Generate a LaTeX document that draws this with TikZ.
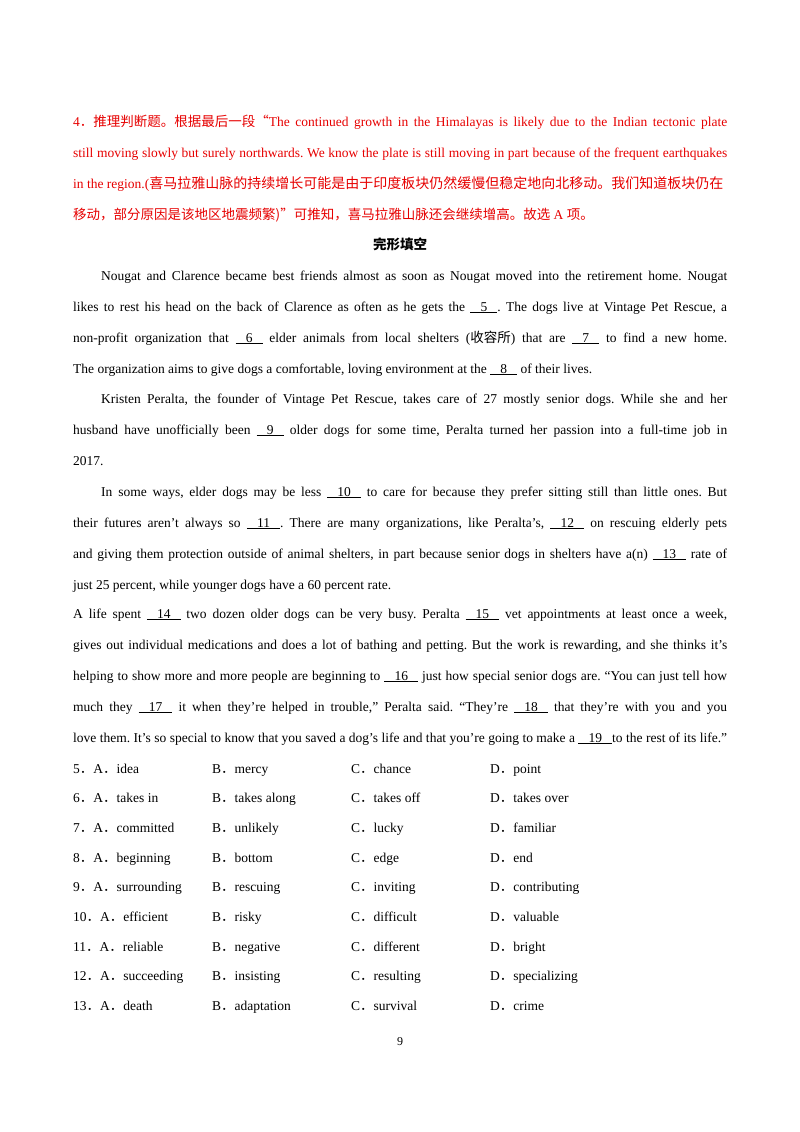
\documentclass[tikz,border=0pt]{standalone}
\usepackage{fontspec}
\setmainfont{Liberation Serif}
\newfontfamily\cjk{Noto Sans CJK SC}
\frenchspacing
\definecolor{redtxt}{RGB}{230,0,0}
\newcommand{\bl}[1]{\underline{\ \ \ #1\ \ \ }}
\newcommand{\jl}[1]{\hbox to 654pt{#1}}
\begin{document}
\begin{tikzpicture}[x=1pt,y=-1pt,
  ln/.style={anchor=base west,inner sep=0pt,font=\fontsize{13.5}{16}\selectfont},
  rd/.style={ln,text=redtxt}]
\useasboundingbox (0,0) rectangle (800,1132);
\node[rd] (r1) at (73,126) {\jl{4{\cjk．推理判断题。根据最后一段“}The continued growth in the Himalayas is likely due to the Indian tectonic plate}};
\node[rd] (r2) at (73,157) {\jl{still moving slowly but surely northwards. We know the plate is still moving in part because of the frequent earthquakes}};
\node[rd] (r3) at (73,188) {in the region.({\cjk\fontsize{14}{16}\selectfont 喜马拉雅山脉的持续增长可能是由于印度板块仍然缓慢但稳定地向北移动。我们知道板块仍在}};
\node[rd] (r4) at (73,219) {{\cjk 移动，部分原因是该地区地震频繁)”可推知，喜马拉雅山脉还会继续增高。故选} A {\cjk 项。}};
\node[ln,anchor=base] (t) at (400,249) {{\cjk\bfseries 完形填空}};
\node[ln] (p1) at (101,280) {\hbox to 626pt{Nougat and Clarence became best friends almost as soon as Nougat moved into the retirement home. Nougat}};
\node[ln] (p2) at (73,311) {\jl{likes to rest his head on the back of Clarence as often as he gets the \bl{5}. The dogs live at Vintage Pet Rescue, a}};
\node[ln] (p3) at (73,342) {\jl{non-profit organization that \bl{6} elder animals from local shelters ({\cjk 收容所}) that are \bl{7} to find a new home.}};
\node[ln] (p4) at (73,373) {The organization aims to give dogs a comfortable, loving environment at the \bl{8} of their lives.};
\node[ln] (p5) at (101,403) {\hbox to 626pt{Kristen Peralta, the founder of Vintage Pet Rescue, takes care of 27 mostly senior dogs. While she and her}};
\node[ln] (p6) at (73,434) {\jl{husband have unofficially been \bl{9} older dogs for some time, Peralta turned her passion into a full-time job in}};
\node[ln] (p7) at (73,465) {2017.};
\node[ln] (p8) at (101,496) {\hbox to 626pt{In some ways, elder dogs may be less \bl{10} to care for because they prefer sitting still than little ones. But}};
\node[ln] (p9) at (73,527) {\jl{their futures aren't always so \bl{11}. There are many organizations, like Peralta's, \bl{12} on rescuing elderly pets}};
\node[ln] (p10) at (73,558) {\jl{and giving them protection outside of animal shelters, in part because senior dogs in shelters have a(n) \bl{13} rate of}};
\node[ln] (p11) at (73,589) {just 25 percent, while younger dogs have a 60 percent rate.};
\node[ln] (p12) at (73,618) {\jl{A life spent \bl{14} two dozen older dogs can be very busy. Peralta \bl{15} vet appointments at least once a week,}};
\node[ln] (p13) at (73,649) {\jl{gives out individual medications and does a lot of bathing and petting. But the work is rewarding, and she thinks it's}};
\node[ln] (p14) at (73,680) {\jl{helping to show more and more people are beginning to \bl{16} just how special senior dogs are. ``You can just tell how}};
\node[ln] (p15) at (73,711) {\jl{much they \bl{17} it when they're helped in trouble,'' Peralta said. ``They're \bl{18} that they're with you and you}};
\node[ln] (p16) at (73,742) {\jl{love them. It's so special to know that you saved a dog's life and that you're going to make a \bl{19}to the rest of its life.''}};
\foreach \n/\a/\b/\c/\d [count=\i from 0] in {
 5/idea/mercy/chance/point,
 6/takes in/takes along/takes off/takes over,
 7/committed/unlikely/lucky/familiar,
 8/beginning/bottom/edge/end,
 9/surrounding/rescuing/inviting/contributing,
 10/efficient/risky/difficult/valuable,
 11/reliable/negative/different/bright,
 12/succeeding/insisting/resulting/specializing,
 13/death/adaptation/survival/crime}{
  \pgfmathsetmacro\yy{773+29.7*\i}
  \node[ln] (oa\i) at (73,\yy) {\n{\cjk．}A{\cjk．}\a};
  \node[ln] (ob\i) at (212,\yy) {B{\cjk．}\b};
  \node[ln] (oc\i) at (351,\yy) {C{\cjk．}\c};
  \node[ln] (od\i) at (490,\yy) {D{\cjk．}\d};
}
\node[ln,anchor=base,font=\fontsize{12}{14}\selectfont] (pg) at (400,1045) {9};
\end{tikzpicture}
\end{document}
